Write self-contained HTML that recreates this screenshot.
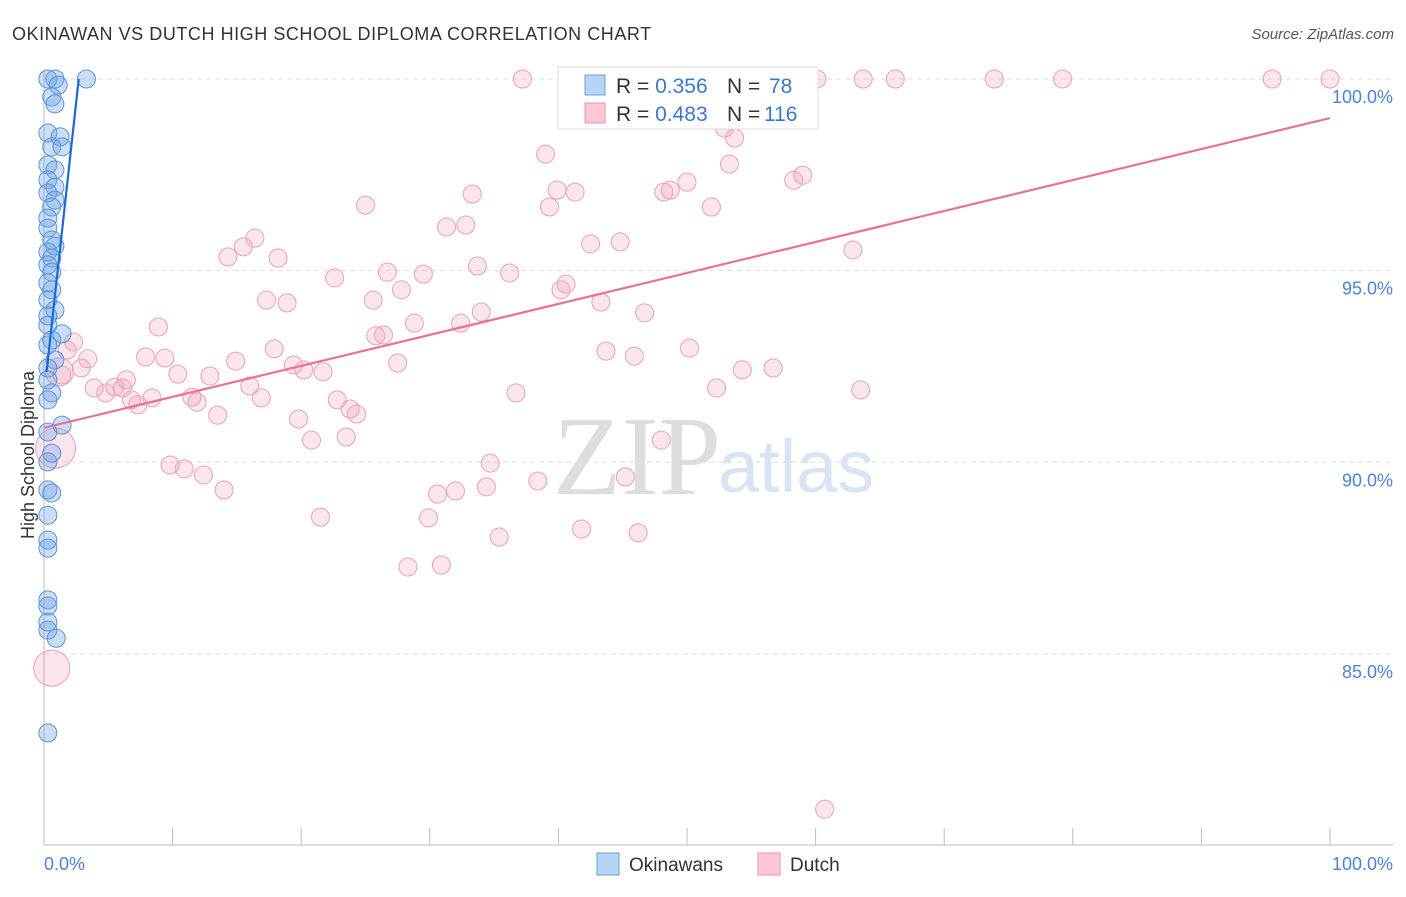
<!DOCTYPE html>
<html><head><meta charset="utf-8"><style>
body{margin:0;background:#fff;width:1406px;height:892px;overflow:hidden;font-family:"Liberation Sans",sans-serif}
</style></head><body>
<svg id="c" width="1406" height="892" xmlns="http://www.w3.org/2000/svg">
<text x="12" y="40" font-size="18" fill="#333" letter-spacing="0.55">OKINAWAN VS DUTCH HIGH SCHOOL DIPLOMA CORRELATION CHART</text>
<text x="1394" y="39" font-size="15" fill="#555" font-style="italic" text-anchor="end">Source: ZipAtlas.com</text>
<text x="553" y="494" font-size="112" fill="#ddd" font-family="Liberation Serif,serif">ZIP</text>
<text x="718" y="492" font-size="74" fill="#d6e4f5">atlas</text>
<text transform="translate(34,455) rotate(-90)" font-size="18" fill="#333" text-anchor="middle">High School Diploma</text>
<g id="grid"></g><g id="pts"></g><g id="lines"></g>
<g>
<rect x="558" y="67" width="260" height="62" fill="#fff" fill-opacity="0.9" stroke="#ddd"/>
<rect x="585" y="75" width="20" height="20" fill="#b8d3f5" stroke="#6a9fe0"/>
<rect x="585" y="103" width="20" height="20" fill="#fbc8d6" stroke="#ec92ad"/>
<text x="616" y="93" font-size="21" fill="#333">R = <tspan fill="#3a78d0">0.356</tspan><tspan x="727">N = </tspan><tspan fill="#3a78d0" x="769">78</tspan></text>
<text x="616" y="121" font-size="21" fill="#333">R = <tspan fill="#3a78d0">0.483</tspan><tspan x="727">N = </tspan><tspan fill="#3a78d0" x="764">116</tspan></text>
</g>
<g>
<rect x="597" y="853" width="22" height="22" fill="#b8d3f5" stroke="#6a9fe0"/>
<text x="629" y="871" font-size="19" fill="#333">Okinawans</text>
<rect x="758" y="853" width="22" height="22" fill="#fbc8d6" stroke="#ec92ad"/>
<text x="790" y="871" font-size="19" fill="#333">Dutch</text>
</g>
</svg>
<script>
const yTicks=[100,95,90,85];
const xTickLabels=["0.0%","100.0%"];
const blueX=[0.3,0.85,1.1,3.3,0.6,0.85,0.3,1.25,0.6,1.4,0.3,0.85,0.3,0.85,0.3,0.85,0.6,0.3,0.3,0.6,0.85,0.3,0.6,0.3,0.6,0.3,0.6,0.3,0.85,0.3,0.3,1.4,0.6,0.3,0.85,0.3,0.3,0.6,0.3,1.4,0.3,0.6,0.3,0.3,0.6,0.3,0.3,0.3,0.3,0.3,0.3,0.3,0.95,0.3];
const blueY=[100,100,99.84,100,99.53,99.35,98.59,98.49,98.23,98.23,97.76,97.63,97.37,97.18,97.03,96.84,96.66,96.37,96.11,95.8,95.64,95.49,95.33,95.15,94.96,94.68,94.5,94.24,93.97,93.82,93.58,93.35,93.19,93.06,92.67,92.46,92.15,91.81,91.63,90.97,90.79,90.24,90.01,89.28,89.2,88.62,87.97,87.76,86.41,86.25,85.83,85.62,85.41,82.94];
const pinkX=[37.2,60.1,63.7,66.2,73.9,79.2,95.5,100,52.9,53.7,39.0,53.3,33.3,39.9,41.3,48.2,48.7,50.0,58.3,59.0,25.0,39.3,51.9,31.3,32.8,16.4,15.5,14.3,18.2,42.5,44.8,62.9,22.6,26.7,29.5,33.7,36.2,27.8,40.6,40.2,17.3,18.9,25.6,43.3,34.0,46.7,8.9,28.8,32.4,25.8,26.4,2.3,1.8,17.9,43.7,45.9,50.2,7.9,9.4,3.4,14.9,27.5,19.4,20.2,2.9,10.4,21.7,54.3,56.7,1.4,12.9,6.4,3.9,5.5,4.8,6.1,16.0,52.3,63.5,8.4,6.8,7.3,11.5,11.9,36.7,16.9,22.8,23.8,24.3,13.5,19.8,23.5,20.8,48.0,9.8,10.9,12.4,34.7,14.0,30.6,32.0,34.4,38.4,45.2,21.5,29.9,35.4,41.8,46.2,28.3,30.9,60.7,0.9,0.6,1.2];
const pinkY=[100,100,100,100,100,100,100,100,98.72,98.46,98.04,97.78,97.0,97.1,97.05,97.05,97.1,97.31,97.36,97.49,96.71,96.66,96.66,96.14,96.19,95.85,95.62,95.36,95.33,95.7,95.75,95.54,94.81,94.96,94.91,95.12,94.94,94.5,94.65,94.5,94.23,94.16,94.23,94.18,93.92,93.9,93.53,93.63,93.63,93.3,93.32,93.14,92.93,92.96,92.9,92.77,92.98,92.75,92.72,92.7,92.64,92.59,92.54,92.41,92.46,92.3,92.36,92.41,92.46,92.28,92.25,92.15,91.94,91.96,91.81,91.94,91.99,91.94,91.89,91.68,91.63,91.5,91.7,91.57,91.81,91.68,91.63,91.39,91.26,91.23,91.13,90.66,90.58,90.58,89.93,89.83,89.67,89.98,89.28,89.17,89.25,89.36,89.51,89.62,88.57,88.55,88.05,88.26,88.16,87.27,87.32,80.95,90.37,84.63,92.36];
const pinkR=new Array(pinkX.length).fill(9);pinkR[pinkR.length-3]=20;pinkR[pinkR.length-2]=18;pinkR[pinkR.length-1]=14;
const blueTrend=[[0.2,92.36],[2.7,100]];
const pinkTrend=[[0,90.9],[100,98.98]];
const NS="http://www.w3.org/2000/svg";
const X=v=>44+v*12.86, Y=v=>79+(100-v)*38.33;
function mk(t,a,p){const e=document.createElementNS(NS,t);for(const k in a)e.setAttribute(k,a[k]);p.appendChild(e);return e;}
const grid=document.getElementById('grid');
yTicks.forEach(t=>{
 const l=mk('line',{x1:44,x2:1393,y1:Y(t),y2:Y(t),stroke:'#ddd','stroke-dasharray':'5,4'},grid);
 
 
 const tx=mk('text',{x:1393,y:Y(t)+24,'font-size':18,fill:'#4a84d8','text-anchor':'end'},grid);tx.textContent=t.toFixed(1)+'%';
 
 
});
const ax=mk('line',{x1:44,x2:1393,y1:845,y2:845,stroke:'#bbb'},grid);


const ay=mk('line',{x1:44,x2:44,y1:70,y2:845,stroke:'#bbb'},grid);


for(let i=1;i<=10;i++){const t=mk('line',{x1:X(i*10),x2:X(i*10),y1:828,y2:845,stroke:'#bbb'},grid);
 
 }
[[0,'start',44],[1,'end',1393]].forEach(([i,a,x])=>{const t=mk('text',{x:x,y:870,'font-size':18,fill:'#4a84d8','text-anchor':a},grid);t.textContent=xTickLabels[i];
 
 });
const pts=document.getElementById('pts');
pinkX.forEach((v,i)=>{const c=mk('circle',{cx:X(v),cy:Y(pinkY[i]),r:pinkR[i],fill:'rgba(244,150,180,0.25)',stroke:'#eba0b8','stroke-width':1},pts);
 
 });
blueX.forEach((v,i)=>{const c=mk('circle',{cx:X(v),cy:Y(blueY[i]),r:9,fill:'rgba(110,160,230,0.35)',stroke:'#5a94dc','stroke-width':1},pts);
 
 });
const ln=document.getElementById('lines');
const pl=mk('line',{x1:X(pinkTrend[0][0]),y1:Y(pinkTrend[0][1]),x2:X(pinkTrend[1][0]),y2:Y(pinkTrend[1][1]),stroke:'#e8709a','stroke-width':2.2},ln);


const bl=mk('line',{x1:X(blueTrend[0][0]),y1:Y(blueTrend[0][1]),x2:X(blueTrend[1][0]),y2:Y(blueTrend[1][1]),stroke:'#1a6ad8','stroke-width':2.2},ln);


</script>
</body></html>
